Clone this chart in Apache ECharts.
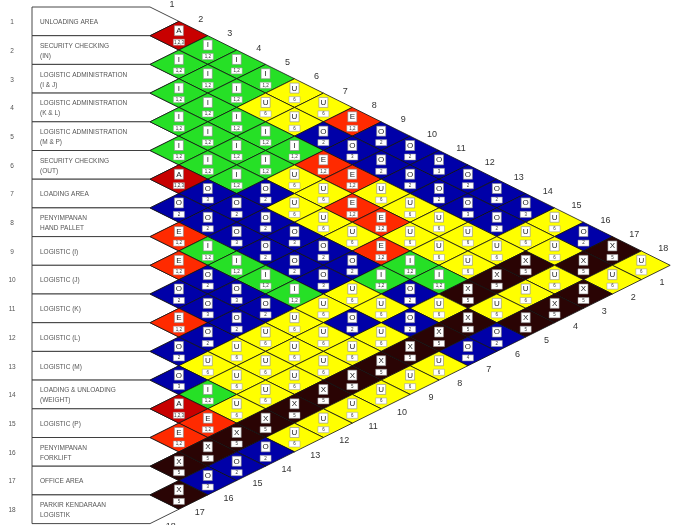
<!DOCTYPE html>
<html>
<head>
<meta charset="utf-8">
<script src="https://cdn.jsdelivr.net/npm/echarts@6/dist/echarts.min.js"></script>
<style>
html,body{margin:0;padding:0;background:#fff;}
#chart{width:673px;height:525px;}
</style>
</head>
<body>
<div id="chart"></div>
<script>
// ---------- DATA ----------
const departments = [
  "UNLOADING AREA",
  "SECURITY CHECKING\n(IN)",
  "LOGISTIC ADMINISTRATION\n(I & J)",
  "LOGISTIC ADMINISTRATION\n(K & L)",
  "LOGISTIC ADMINISTRATION\n(M & P)",
  "SECURITY CHECKING\n(OUT)",
  "LOADING AREA",
  "PENYIMPANAN\nHAND PALLET",
  "LOGISTIC (I)",
  "LOGISTIC (J)",
  "LOGISTIC (K)",
  "LOGISTIC (L)",
  "LOGISTIC (M)",
  "LOADING & UNLOADING\n(WEIGHT)",
  "LOGISTIC (P)",
  "PENYIMPANAN\nFORKLIFT",
  "OFFICE AREA",
  "PARKIR KENDARAAN\nLOGISTIK"
];
// relationship letters: row i, partners j = i+1 .. 18
const relRows = [
  "AIIIUUEOOOOOOUOXU",
  "IIIUUOOOOOOOUUXU",
  "IIIIIEEUUUUUXUX",
  "IIIIUUEEUUUXUX",
  "IIIOUUUEIIXUX",
  "AOOOOOOIOUXO",
  "OOOOOOUUOXO",
  "EIIIIUOUXU",
  "EOOOUUUXU",
  "OOOUUUXU",
  "EOUUUXU",
  "OUUUXU",
  "OIUXU",
  "AEXO",
  "EXO",
  "XO",
  "X"
];
// reason codes (estimated)
const reasonRows = [
  ["1,2,3","1,2","1,2","1,2","6","6","1,2","2","2","3","2","2","3","6","2","5","6"],
  ["1,2","1,2","1,2","6","6","2","3","2","2","2","3","2","6","6","5","6"],
  ["1,2","1,2","1,2","1,2","1,2","1,2","1,2","6","6","6","6","6","5","6","5"],
  ["1,2","1,2","1,2","1,2","6","6","1,2","1,2","6","6","6","5","6","5"],
  ["1,2","1,2","1,2","2","6","6","6","1,2","1,2","1,2","5","6","5"],
  ["1,2,3","3","2","2","3","2","2","1,2","2","6","5","2"],
  ["2","2","3","2","2","3","6","6","2","5","4"],
  ["1,2","1,2","1,2","1,2","1,2","6","2","6","5","6"],
  ["1,2","2","3","2","6","6","6","5","6"],
  ["2","3","2","6","6","6","5","6"],
  ["1,2","2","6","6","6","5","6"],
  ["2","6","6","6","5","6"],
  ["3","1,2","6","5","6"],
  ["1,2,3","1,2","5","2"],
  ["1,2","5","2"],
  ["5","3"],
  ["5"]
];
const edgeLabels = ["1","2","3","4","5","6","7","8","9","10","11","12","13","14","15","16","17","18"];

// ---------- STYLE ----------
const COLORS = { A:'#c80000', E:'#ff2a00', I:'#26e026', O:'#0000a8', U:'#ffff00', X:'#2a0404' };
const FONT = 'Liberation Sans';
// layout: pixel x of u=0, px per u, pixel y of v=0, px per v
const PX0 = 150, UX = 28.9, PY0 = 7, VY = 28.7, W = 673, H = 525;
const BOX_LEFT = (32 - PX0) / UX;
const NUM_U = (12 - PX0) / UX;
const TEXT_U = (40 - PX0) / UX;

const cells = [];
relRows.forEach((row, r) => {
  for (let k = 0; k < row.length; k++) {
    const i = r + 1, j = i + 1 + k;
    cells.push({ i: i, j: j, letter: row[k], reason: reasonRows[r][k] });
  }
});

const chart = echarts.init(document.getElementById('chart'), null, { renderer: 'canvas' });

const option = {
  animation: false,
  backgroundColor: '#ffffff',
  grid: { left: 0, right: 0, top: 0, bottom: 0 },
  xAxis: { type: 'value', min: -PX0 / UX, max: (W - PX0) / UX, show: false },
  yAxis: { type: 'value', inverse: true, min: -PY0 / VY, max: (H - PY0) / VY, show: false },
  series: [
    {
      type: 'custom',
      name: 'departments',
      data: departments.map((d, idx) => [idx + 1, 0]),
      renderItem: function (params, api) {
        const k = api.value(0);
        const pts = [
          api.coord([BOX_LEFT, k - 1]), api.coord([0, k - 1]), api.coord([1, k - 0.5]),
          api.coord([0, k]), api.coord([BOX_LEFT, k])
        ];
        const num = api.coord([NUM_U, k - 0.5]);
        const txt = api.coord([TEXT_U, k - 0.5]);
        return {
          type: 'group',
          children: [
            { type: 'polygon', shape: { points: pts }, style: { fill: '#fff', stroke: '#333', lineWidth: 0.9 } },
            { type: 'text', style: { text: String(k), x: num[0], y: num[1] + 1, align: 'center', verticalAlign: 'middle', fontSize: 6.5, fontFamily: FONT, fill: '#555' } },
            { type: 'text', style: { text: departments[k - 1], x: txt[0], y: txt[1] + 1, align: 'left', verticalAlign: 'middle', fontSize: 6.5, lineHeight: 10, fontFamily: FONT, fill: '#555' } }
          ]
        };
      },
      z: 2
    },
    {
      type: 'custom',
      name: 'relationships',
      data: cells.map(c => [c.j - c.i, (c.i + c.j) / 2 - 0.5]),
      renderItem: function (params, api) {
        const c = cells[params.dataIndex];
        const u = api.value(0), v = api.value(1);
        const L = api.coord([u - 1, v]), T = api.coord([u, v - 0.5]), R = api.coord([u + 1, v]), B = api.coord([u, v + 0.5]);
        const C = api.coord([u, v]);
        return {
          type: 'group',
          children: [
            { type: 'polygon', shape: { points: [L, T, R, B] }, style: { fill: COLORS[c.letter], stroke: '#111', lineWidth: 0.8 } },
            { type: 'rect', shape: { x: C[0] - 4.5, y: C[1] - 10, width: 9, height: 10 }, style: { fill: '#fff', stroke: '#888', lineWidth: 0.6 } },
            { type: 'text', style: { text: c.letter, x: C[0], y: C[1] - 4.8, align: 'center', verticalAlign: 'middle', fontSize: 8, fontFamily: FONT, fill: '#222' } },
            { type: 'rect', shape: { x: C[0] - 5.5, y: C[1] + 3.5, width: 11, height: 6 }, style: { fill: '#fff', stroke: '#999', lineWidth: 0.5 } },
            { type: 'text', style: { text: c.reason, x: C[0], y: C[1] + 6.6, align: 'center', verticalAlign: 'middle', fontSize: 4.5, fontFamily: FONT, fill: '#333' } }
          ]
        };
      },
      z: 3
    },
    {
      type: 'custom',
      name: 'edge labels',
      data: edgeLabels.map((t, idx) => [idx + 1, 0]),
      renderItem: function (params, api) {
        const k = api.value(0);
        const top = api.coord([k - 0.24, k / 2 - 0.57]);
        const bot = api.coord([18.72 - k, 9.117 + k / 2]);
        const t = edgeLabels[k - 1];
        return {
          type: 'group',
          children: [
            { type: 'text', style: { text: t, x: top[0], y: top[1], align: 'center', verticalAlign: 'middle', fontSize: 9, fontFamily: FONT, fill: '#333' } },
            { type: 'text', style: { text: t, x: bot[0], y: bot[1], align: 'center', verticalAlign: 'middle', fontSize: 9, fontFamily: FONT, fill: '#333' } }
          ]
        };
      },
      z: 4
    }
  ]
};
chart.setOption(option);
</script>
</body>
</html>
